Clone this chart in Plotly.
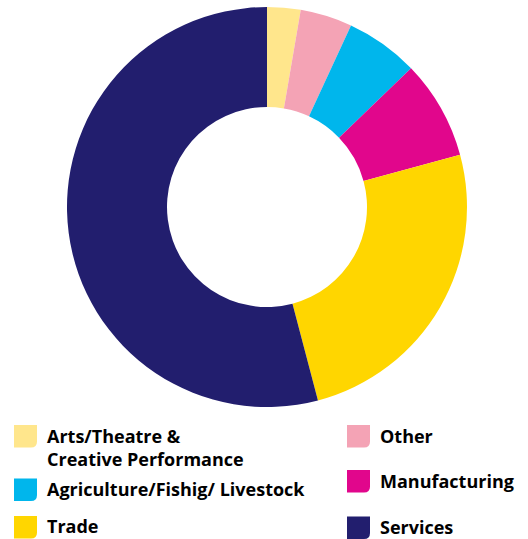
import plotly.graph_objects as go

# Sector shares (percent), listed clockwise from 12 o'clock
categories = [
    "Arts/Theatre &<br>Creative Performance",
    "Other",
    "Agriculture/Fishig/ Livestock",
    "Manufacturing",
    "Trade",
    "Services",
]
shares = [2.7, 4.2, 5.9, 8.0, 25.1, 54.1]
colors = ["#FFE68C", "#F4A3B5", "#00B6EC", "#E1068C", "#FFD600", "#221E6E"]

W, H = 528, 539


def px_x(x):
    return x / W


def px_y(y):
    return 1 - y / H


fig = go.Figure(
    go.Pie(
        labels=categories,
        values=shares,
        hole=0.5,
        sort=False,
        direction="clockwise",
        rotation=0,
        marker=dict(colors=colors, line=dict(width=0)),
        textinfo="none",
        hoverinfo="label+percent",
        showlegend=False,
        domain=dict(x=[px_x(67), px_x(467)], y=[px_y(407), px_y(7)]),
    )
)

# Legend: two columns of swatches with one rounded corner, plus labels
legend_layout = [
    # (category index, swatch left, swatch top, label y centre)
    (0, 14, 425, 447.5),
    (2, 14, 478.5, 488.5),
    (4, 14, 516, 526),
    (1, 347, 425, 435.5),
    (3, 347, 470, 480.5),
    (5, 347, 516.5, 526.5),
]
sw, sh, rad = 23, 22.5, 6

shapes = []
annotations = []
for idx, x0, y0, ty in legend_layout:
    x1, y1 = x0 + sw, y0 + sh
    path = (
        f"M {px_x(x0)},{px_y(y0)} L {px_x(x1)},{px_y(y0)} "
        f"L {px_x(x1)},{px_y(y1 - rad)} "
        f"Q {px_x(x1)},{px_y(y1)} {px_x(x1 - rad)},{px_y(y1)} "
        f"L {px_x(x0)},{px_y(y1)} Z"
    )
    shapes.append(dict(type="path", xref="paper", yref="paper", path=path,
                       fillcolor=colors[idx], line=dict(width=0)))
    annotations.append(dict(
        x=px_x(x0 + 31), y=px_y(ty), xref="paper", yref="paper",
        xanchor="left", yanchor="middle", align="left", showarrow=False,
        text=categories[idx],
        font=dict(family="Open Sans", size=18, color="#000000", weight=700),
    ))

fig.update_layout(
    width=W,
    height=H,
    margin=dict(l=0, r=0, t=0, b=0),
    paper_bgcolor="white",
    plot_bgcolor="white",
    shapes=shapes,
    annotations=annotations,
)

fig.write_html("out.html")
